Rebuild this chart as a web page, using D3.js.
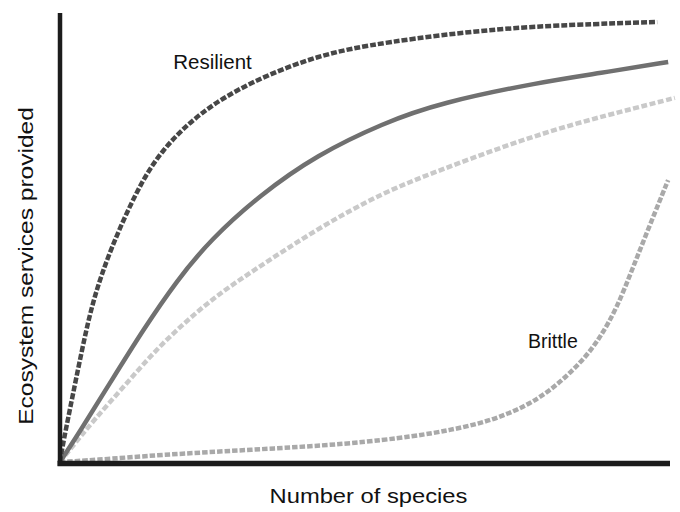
<!DOCTYPE html>
<html>
<head>
<meta charset="utf-8">
<script src="https://cdn.jsdelivr.net/npm/d3@7"></script>
<style>
  html, body { margin: 0; padding: 0; background: #fff; }
  svg { display: block; }
  text { font-family: "Liberation Sans", Arial, Helvetica, sans-serif; fill: #111; }
</style>
</head>
<body>
<svg id="chart" width="680" height="512"></svg>
<script>
// ---- Data (x: number of species, y: ecosystem services provided, arbitrary units 0-100) ----
const resilientX = [0, 0.3, 1.6, 3.6, 5.4, 8.2, 12.6, 16.6, 23.0, 31.1, 42.1, 53.0, 72.1, 88.5, 97.9];
const resilientY = [0, 2.7, 11.6, 25.0, 36.1, 47.2, 60.6, 69.5, 78.0, 84.6, 90.6, 93.5, 96.7, 97.6, 98.0];

const middleX = [0, 3.3, 8.2, 13.6, 19.2, 24.6, 32.8, 42.1, 53.0, 62.3, 78.7, 88.5, 99.7];
const middleY = [0, 6.9, 17.6, 29.4, 40.5, 49.4, 59.5, 68.4, 75.5, 80.0, 84.6, 86.6, 89.1];

const lightX = [0, 1.6, 5.4, 11.0, 16.4, 24.6, 31.1, 42.1, 53.0, 62.3, 73.3, 84.1, 95.1, 100.8];
const lightY = [0, 2.7, 9.1, 17.6, 26.1, 36.1, 42.1, 51.9, 60.1, 65.0, 70.6, 75.3, 79.1, 81.1];

const brittleX = [0, 5.4, 16.4, 31.1, 47.5, 58.5, 63.9, 69.3, 74.9, 80.3, 85.7, 88.5, 91.3, 93.9, 96.7, 99.7];
const brittleY = [0, 0.4, 1.6, 2.7, 4.0, 5.8, 7.1, 8.7, 11.4, 15.6, 22.5, 27.6, 34.3, 43.2, 52.8, 62.8];

const xTitle = "Number of species";
const yTitle = "Ecosystem services provided";
const labelResilient = { text: "Resilient", x: 25.0, y: 87.5 };
const labelBrittle = { text: "Brittle", x: 80.8, y: 25.5 };

// ---- Chart ----
const svg = d3.select("#chart");
const x = d3.scaleLinear().domain([0, 100]).range([60, 670]);
const y = d3.scaleLinear().domain([0, 100]).range([462, 13]);

const zip = (xs, ys) => xs.map((v, i) => [v, ys[i]]);
const line = d3.line().x(d => x(d[0])).y(d => y(d[1])).curve(d3.curveBasis);

const series = [
  { data: zip(lightX, lightY), color: "#c9c9c9", dash: "6,2.5", width: 4.5 },
  { data: zip(brittleX, brittleY), color: "#a9a9a9", dash: "5.5,2", width: 4.5 },
  { data: zip(middleX, middleY), color: "#707070", dash: null, width: 4.5 },
  { data: zip(resilientX, resilientY), color: "#474747", dash: "6,2", width: 4.5 }
];

series.forEach(s => {
  svg.append("path")
    .datum(s.data)
    .attr("d", line)
    .attr("fill", "none")
    .attr("stroke", s.color)
    .attr("stroke-width", s.width)
    .attr("stroke-dasharray", s.dash)
    .attr("stroke-linecap", "butt")
    .attr("stroke-linejoin", "round");
});

// Axes (no ticks, heavy domain lines)
const xAxis = svg.append("g")
  .attr("transform", `translate(0, ${y(0) + 1.5})`)
  .call(d3.axisBottom(x).tickValues([]).tickSizeOuter(0));
xAxis.select(".domain")
  .attr("stroke", "#1c1c1c")
  .attr("stroke-width", 5.5)
  .attr("d", `M${x(0) - 2.5},0H${x(100)}`);

const yAxis = svg.append("g")
  .attr("transform", `translate(${x(0)}, 0)`)
  .call(d3.axisLeft(y).tickValues([]).tickSizeOuter(0));
yAxis.select(".domain")
  .attr("stroke", "#1c1c1c")
  .attr("stroke-width", 4.5)
  .attr("d", `M0,${y(100)}V${y(0) + 4}`);

// Axis titles (glyphs are horizontally widened in the original)
function stretchedText(tx, ty, rot, size, target, str) {
  const g = svg.append("g").attr("transform", `translate(${tx},${ty}) rotate(${rot})`);
  const t = g.append("text")
    .attr("text-anchor", "middle")
    .attr("font-size", size)
    .text(str);
  const w = t.node().getComputedTextLength();
  t.attr("transform", `scale(${target / w},1)`);
}
stretchedText(368.5, 502.5, 0, 20.5, 198, xTitle);
stretchedText(33.3, 266, -90, 21, 318, yTitle);

// Curve labels
svg.append("text")
  .attr("x", x(labelResilient.x))
  .attr("y", y(labelResilient.y))
  .attr("text-anchor", "middle")
  .attr("font-size", 20.5)
  .text(labelResilient.text);

svg.append("text")
  .attr("x", x(labelBrittle.x))
  .attr("y", y(labelBrittle.y))
  .attr("text-anchor", "middle")
  .attr("font-size", 19.5)
  .text(labelBrittle.text);
</script>
</body>
</html>
